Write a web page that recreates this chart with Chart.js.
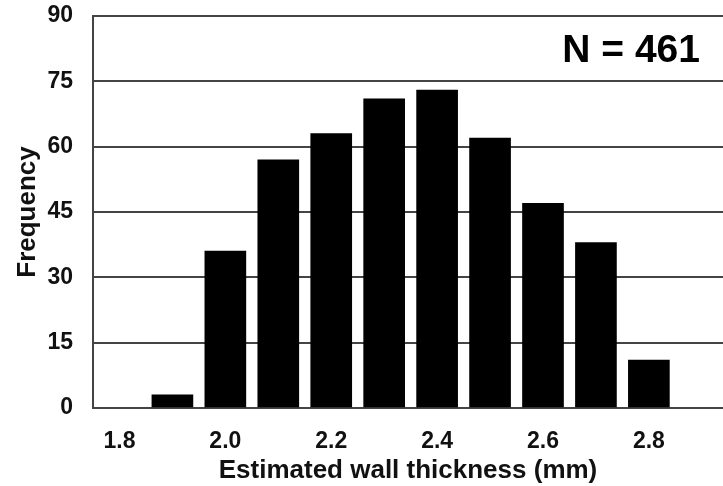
<!DOCTYPE html>
<html>
<head>
<meta charset="utf-8">
<script src="https://cdn.jsdelivr.net/npm/chart.js@4/dist/chart.umd.min.js"></script>
<style>
  html, body { margin: 0; padding: 0; background: #ffffff; overflow: hidden; }
  #wrap { width: 723px; height: 486px; position: relative; }
</style>
</head>
<body>
<div id="wrap"><canvas id="c" width="723" height="486"></canvas></div>
<script>
const binCenters = [1.9, 2.0, 2.1, 2.2, 2.3, 2.4, 2.5, 2.6, 2.7, 2.8];
const frequencies = [3, 36, 57, 63, 71, 73, 62, 47, 38, 11];
const xTickValues = [1.8, 2.0, 2.2, 2.4, 2.6, 2.8];
const yTickValues = [0, 15, 30, 45, 60, 75, 90];
const sampleLabel = 'N = 461';
const xTitle = 'Estimated wall thickness (mm)';
const yTitle = 'Frequency';

const FONT = '"Liberation Sans", Arial, sans-serif';

const annotationPlugin = {
  id: 'nLabel',
  afterDraw(chart) {
    const ctx = chart.ctx;
    ctx.save();
    ctx.font = 'bold 39px ' + FONT;
    ctx.fillStyle = '#000';
    ctx.textAlign = 'right';
    ctx.textBaseline = 'middle';
    ctx.fillText(sampleLabel, 700, 51);
    ctx.restore();
  }
};

new Chart(document.getElementById('c'), {
  type: 'bar',
  data: {
    datasets: [{
      data: binCenters.map((x, i) => ({ x: x, y: frequencies[i] })),
      backgroundColor: '#000000',
      borderWidth: 0,
      barThickness: 41
    }]
  },
  options: {
    responsive: false,
    animation: false,
    layout: { padding: { left: 0, right: 0, top: 16, bottom: 0 } },
    plugins: { legend: { display: false }, tooltip: { enabled: false } },
    scales: {
      x: {
        type: 'linear',
        offset: false,
        min: 1.75,
        max: 2.94,
        afterBuildTicks(scale) { scale.ticks = xTickValues.map(v => ({ value: v })); },
        afterFit(scale) {
          scale.height = 78;
          scale.paddingLeft = 0; scale.paddingRight = 0;
        },
        ticks: {
          includeBounds: false,
          color: '#111',
          font: { family: FONT, size: 23, weight: 'bold' },
          padding: 20,
          maxRotation: 0,
          callback: v => Number(v).toFixed(1)
        },
        grid: { display: false, drawTicks: false, offset: false },
        border: { display: true, color: '#444', width: 2 },
        title: {
          display: true,
          text: xTitle,
          color: '#111',
          font: { family: FONT, size: 26, weight: 'bold' },
          padding: { top: 0, bottom: 0 }
        }
      },
      y: {
        min: 0,
        max: 90,
        afterBuildTicks(scale) { scale.ticks = yTickValues.map(v => ({ value: v })); },
        afterFit(scale) {
          scale.width = 93;
          scale.paddingTop = 0; scale.paddingBottom = 0;
        },
        ticks: {
          color: '#111',
          font: { family: FONT, size: 23, weight: 'bold' },
          padding: 20
        },
        grid: { color: '#444', lineWidth: 2, drawTicks: false },
        border: { display: true, color: '#444', width: 2 },
        title: {
          display: true,
          text: yTitle,
          color: '#111',
          font: { family: FONT, size: 26, weight: 'bold' },
          padding: { top: 12, bottom: 0 }
        }
      }
    }
  },
  plugins: [annotationPlugin]
});
</script>
</body>
</html>
